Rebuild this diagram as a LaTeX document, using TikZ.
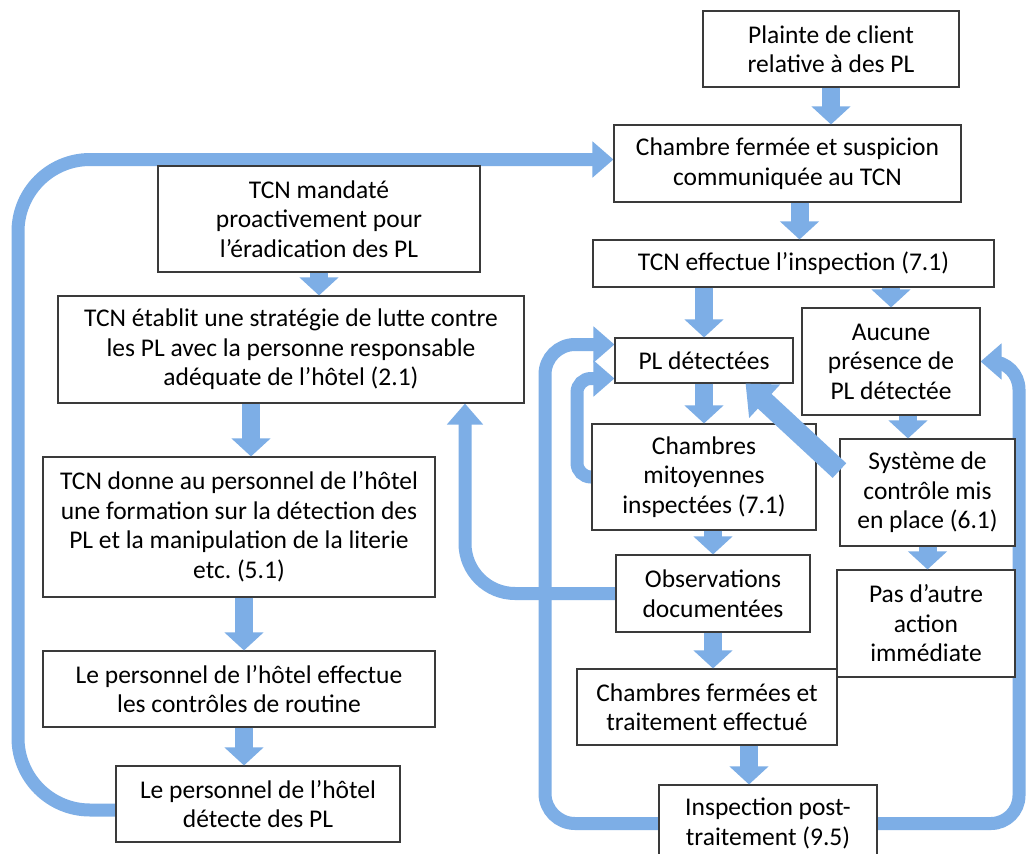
\documentclass[tikz,border=0pt]{standalone}
\usepackage{fontspec}
\setmainfont{Carlito}
\usetikzlibrary{arrows.meta,backgrounds}
\definecolor{bleu}{HTML}{7DAEE6}
\definecolor{trait}{HTML}{3A3A3A}

\begin{document}
\begin{tikzpicture}[x=1pt,y=-1pt,
    etape/.style={draw=trait,line width=1.1pt,fill=white,align=center,inner sep=0pt,
      font=\fontsize{25.5}{29.5}\selectfont},
    fleche/.style={draw=bleu,line width=18pt,-{Triangle[width=38pt,length=18pt]}},
    boucle/.style={draw=bleu,line width=13pt,-{Triangle[width=35pt,length=21pt]}}]
    \useasboundingbox (0,0) rectangle (1026,854);
    % colonne de droite
    \node[etape,minimum width=256pt,minimum height=76pt] (plainte) at (831,49) {Plainte de client\\relative à des PL};
    \node[etape,minimum width=347pt,minimum height=77pt] (chambre) at (787.5,163.5) {Chambre fermée et suspicion\\communiquée au TCN};
    \node[etape,minimum width=401pt,minimum height=47pt] (insp) at (793.5,263.5) {TCN effectue l’inspection (7.1)};
    \node[etape,minimum width=178pt,minimum height=45pt] (pldet) at (704,360.5) {PL détectées};
    \node[etape,minimum width=178pt,minimum height=107pt] (aucune) at (891,361.5) {Aucune\\présence de\\PL détectée};
    \node[etape,minimum width=224pt,minimum height=106pt] (mitoy) at (704,477) {Chambres\\mitoyennes\\inspectées (7.1)};
    \node[etape,minimum width=175pt,minimum height=107pt] (systeme) at (927.5,492.5) {Système de\\contrôle mis\\en place (6.1)};
    \node[etape,minimum width=194pt,minimum height=77pt] (observ) at (713,593.5) {Observations\\documentées};
    \node[etape,minimum width=178pt,minimum height=107pt] (pas) at (926,623.5) {Pas d’autre\\action\\immédiate};
    \node[etape,minimum width=260pt,minimum height=76pt] (chferm) at (707,707) {Chambres fermées et\\traitement effectué};
    \node[etape,minimum width=218pt,minimum height=77pt] (post) at (768,823.5) {Inspection post-\\traitement (9.5)};
    % colonne de gauche
    \node[etape,minimum width=322pt,minimum height=106pt] (mandat) at (319,219) {TCN mandaté\\proactivement pour\\l’éradication des PL};
    \node[etape,minimum width=466pt,minimum height=107pt] (strat) at (291,349.5) {TCN établit une stratégie de lutte contre\\les PL avec la personne responsable\\adéquate de l’hôtel (2.1)};
    \node[etape,minimum width=392pt,minimum height=140pt] (form) at (239,527) {TCN donne au personnel de l’hôtel\\une formation sur la détection des\\PL et la manipulation de la literie\\etc.\ (5.1)};
    \node[etape,minimum width=392pt,minimum height=76pt] (routine) at (239,689) {Le personnel de l’hôtel effectue\\les contrôles de routine};
    \node[etape,minimum width=284pt,minimum height=76pt] (detect) at (258,804) {Le personnel de l’hôtel\\détecte des PL};

    \draw[fleche] (plainte.south) -- (plainte.south |- chambre.north);
    \draw[fleche] ([xshift=12pt]chambre.south) -- ([xshift=12pt]chambre.south |- insp.north);
    \draw[fleche] (pldet.north |- insp.south) -- (pldet.north);
    \draw[fleche] (aucune.north |- insp.south) -- (aucune.north);
    \draw[fleche] (pldet.south) -- (pldet.south |- mitoy.north);
    \draw[fleche] ([xshift=17pt]aucune.south) -- ([xshift=17pt]aucune.south |- systeme.north);
    \draw[fleche] (systeme.south) -- (systeme.south |- pas.north);
    \draw[fleche] (observ.north |- mitoy.south) -- (observ.north);
    \draw[fleche] (observ.south) -- (observ.south |- chferm.north);
    \draw[fleche] ([xshift=42pt]chferm.south) -- ([xshift=42pt]chferm.south |- post.north);
    \draw[fleche] (mandat.south) -- (mandat.south |- strat.north);
    \draw[fleche] ([xshift=-40pt]strat.south) -- ([xshift=-40pt]strat.south |- form.north);
    \draw[fleche] ([xshift=5pt]form.south) -- ([xshift=5pt]form.south |- routine.north);
    \draw[fleche] ([xshift=5pt]routine.south) -- ([xshift=5pt]routine.south |- detect.north);
    \draw[fleche,line width=20pt,-{Triangle[width=44pt,length=26pt]}] (systeme.166) -- (pldet.331);

    % boucles de retour
    \begin{pgfonlayer}{background}
    \fill[white] (0,0) rectangle (1026,854);
    \coordinate (coinG) at (18,480);
    \coordinate (coinE) at (545,600);
    \coordinate (coinI) at (577,430);
    \coordinate (coinD) at (1019,600);
    \draw[boucle,rounded corners=72pt] ([yshift=-6pt]detect.west) -| (coinG) |- ([yshift=4pt]chambre.west);
    \draw[boucle,rounded corners=30pt] (post.west) -| (coinE) |- ([yshift=16pt]pldet.west);
    \draw[boucle,rounded corners=14pt] (mitoy.west) -| (coinI) |- ([yshift=-18pt]pldet.west);
    \draw[boucle,rounded corners=28pt] (post.east) -| (coinD) |- (aucune.east);
    \draw[boucle,rounded corners=50pt] (observ.west) -| ([xshift=174pt]strat.south);
    \end{pgfonlayer}
\end{tikzpicture}
\end{document}
